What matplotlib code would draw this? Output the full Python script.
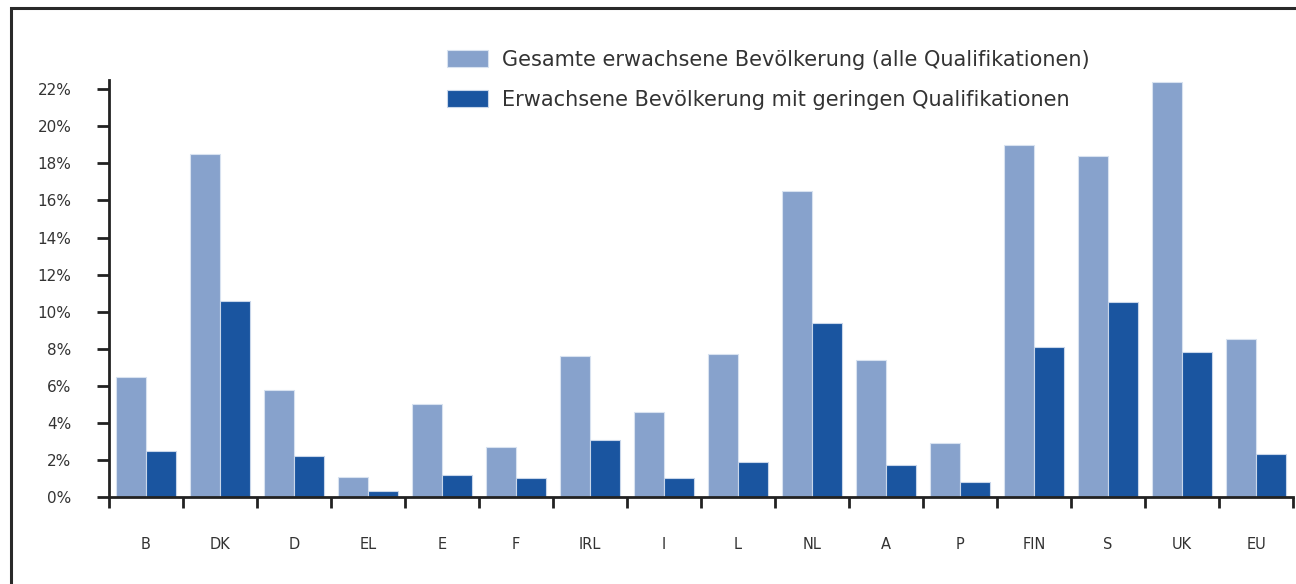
import numpy as np
import matplotlib
matplotlib.use("Agg")
import matplotlib.pyplot as plt
from matplotlib.patches import Rectangle
from matplotlib.ticker import FixedLocator, FuncFormatter

plt.rcParams['font.family'] = ['DejaVu Sans']

# Daten
laender = ['B', 'DK', 'D', 'EL', 'E', 'F', 'IRL', 'I', 'L', 'NL', 'A', 'P', 'FIN', 'S', 'UK', 'EU']
gesamt = [6.5, 18.5, 5.8, 1.1, 5.0, 2.7, 7.6, 4.6, 7.7, 16.5, 7.4, 2.9, 19.0, 18.4, 22.4, 8.5]
gering = [2.5, 10.6, 2.2, 0.3, 1.2, 1.0, 3.1, 1.0, 1.9, 9.4, 1.7, 0.8, 8.1, 10.5, 7.8, 2.3]
y_ticks = [0, 2, 4, 6, 8, 10, 12, 14, 16, 18, 20, 22]
legende = ['Gesamte erwachsene Bevölkerung (alle Qualifikationen)',
           'Erwachsene Bevölkerung mit geringen Qualifikationen']

farbe_hell = '#87a2cc'
farbe_dunkel = '#1a55a0'
textfarbe = '#333333'

fig = plt.figure(figsize=(12.96, 5.84), dpi=100)
ax = fig.add_axes([109 / 1296, 1 - 497 / 584, (1293 - 109) / 1296, (497 - 80) / 584])

x = np.arange(len(laender))
b = 0.4
ax.bar(x - b / 2, gesamt, width=b, color=farbe_hell, edgecolor='#d8e2f0', linewidth=0.8,
       label=legende[0], zorder=2)
ax.bar(x + b / 2, gering, width=b, color=farbe_dunkel, edgecolor='#c8d6ea', linewidth=0.8,
       label=legende[1], zorder=2)

ax.set_xlim(-0.5, len(laender) - 0.5)
ax.set_ylim(0, 22.5)

for s in ['top', 'right']:
    ax.spines[s].set_visible(False)
for s in ['left', 'bottom']:
    ax.spines[s].set_linewidth(2)
    ax.spines[s].set_color('#222222')

# x: Striche an den Grenzen, Beschriftung in der Mitte
ax.xaxis.set_major_locator(FixedLocator(np.arange(len(laender) + 1) - 0.5))
ax.xaxis.set_major_formatter(FuncFormatter(lambda v, p: ''))
ax.xaxis.set_minor_locator(FixedLocator(x))
ax.set_xticklabels(laender, minor=True)
ax.tick_params(axis='x', which='major', direction='out', length=8, width=2, color='#222222')
ax.tick_params(axis='x', which='minor', length=0, pad=29, labelsize=10.5, labelcolor=textfarbe)

ax.set_yticks(y_ticks)
ax.set_yticklabels([f'{v}%' for v in y_ticks])
ax.tick_params(axis='y', direction='out', length=9, width=2, color='#222222',
               pad=18, labelsize=11, labelcolor=textfarbe)

ax.legend(loc='upper left', bbox_to_anchor=(447 / 1296, 1 - 50 / 584),
          bbox_transform=fig.transFigure, frameon=False, fontsize=15,
          handlelength=1.95, handleheight=0.85, handletextpad=0.7,
          labelspacing=0.95, borderpad=0, borderaxespad=0, labelcolor=textfarbe)

# Rahmen (rechts und unten abgeschnitten)
fig.patches.append(Rectangle((11 / 1296, -0.1), 1.2, 1 - 8 / 584 + 0.1,
                             transform=fig.transFigure, fill=False,
                             edgecolor='#2a2a2a', linewidth=2.2))

fig.savefig('out.png', dpi=100)
